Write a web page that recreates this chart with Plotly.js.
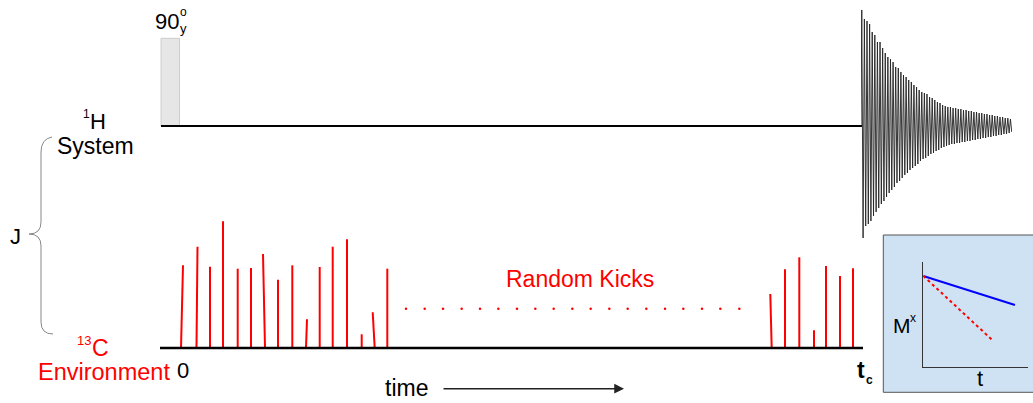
<!DOCTYPE html>
<html>
<head>
<meta charset="utf-8">
<script src="https://cdn.plot.ly/plotly-3.0.1.min.js"></script>
<style>html,body{margin:0;padding:0;background:#fff;}#chart{width:1033px;height:403px;}</style>
</head>
<body>
<div id="chart"></div>
<script>
// ---- data (diagram units = pixels of the reference) ----
const carbonBaseline = 348;
const protonBaseline = 126;
// random kicks: foot x, tip x, height above baseline
const kickFootX = [181, 196.5, 210, 223, 237.7, 251, 265, 278, 292.3, 306, 319.7, 332.7, 347, 361.7, 374.7, 387.3, 771.7, 785, 799.3, 814, 826, 840, 853];
const kickTipX  = [183, 197.5, 210, 223, 237.7, 251, 263, 278, 292.3, 307, 319.7, 332.7, 347, 361.7, 372.7, 387.3, 770.3, 785, 799.3, 814, 826, 840, 853];
const kickHeight = [82.7, 101.3, 81.3, 126.7, 79.3, 80, 94, 68.3, 82.7, 28.7, 81, 101.3, 108.7, 13.7, 35.7, 79.3, 54, 78.7, 90.7, 17.7, 82, 72, 79.7];
// dotted gap
const dotX = [406, 424.7, 443, 461.7, 480, 498.3, 517, 535.3, 553.7, 572.3, 590.7, 609.3, 627.7, 646.3, 665, 683.3, 702, 720.3, 739.3];
const dotY = 308.7;
// FID peak amplitudes (upper / lower), per cycle
const fidUpper = [116,107,105,102,94,91,84,84,78,73,69,67,64,59,58,54,51,49,46,44,41,39,36,34,33,32,29,28,26,24,23,21,20,19,19,18,18,17,17,16,16,15,15,14,14,13,13,12,12,11,11,10,10,9,9,8,8,7];
const fidLower = [112,100,98,95,90,86,82,78,75,71,67,64,61,57,55,52,49,47,44,42,40,38,35,33,32,30,28,27,25,24,22,21,20,19,18,18,17,17,16,16,15,15,14,14,13,13,12,12,11,11,10,10,9,9,8,8,7,6];
// inset: magnetisation decay
const insetT = [0, 0.873];
const insetSlow = [0.864, 0.588];
const insetFastT = [0, 0.667];
const insetFast = [0.864, 0.245];

// ---- build traces ----
const kx = [], ky = [];
for (let i = 0; i < kickFootX.length; i++) {
  kx.push(kickFootX[i], kickTipX[i], null);
  ky.push(carbonBaseline, carbonBaseline - kickHeight[i], null);
}
const fx = [-0.3], fy = [protonBaseline];
for (let k = 0; k < fidUpper.length; k++) {
  fx.push(k, k + 0.5);
  fy.push(protonBaseline - fidUpper[k], protonBaseline + fidLower[k]);
}

const traces = [
  {x: kx, y: ky, mode: 'lines', line: {color: '#ff0000', width: 2}, xaxis: 'x', yaxis: 'y', hoverinfo: 'skip'},
  {x: dotX, y: dotX.map(() => dotY), mode: 'markers', marker: {color: '#ff0000', size: 2.5}, xaxis: 'x', yaxis: 'y', hoverinfo: 'skip'},
  {x: fx, y: fy, mode: 'lines', line: {color: '#222', width: 0.9}, xaxis: 'x2', yaxis: 'y', hoverinfo: 'skip'},
  {x: insetT, y: insetSlow, mode: 'lines', line: {color: '#0000ff', width: 2}, xaxis: 'x3', yaxis: 'y3', hoverinfo: 'skip'},
  {x: insetFastT, y: insetFast, mode: 'lines', line: {color: '#ff0000', width: 2, dash: 'dot'}, xaxis: 'x3', yaxis: 'y3', hoverinfo: 'skip'}
];

const F = 'Liberation Sans, Arial, sans-serif';
function ann(text, x, y, size, color, extra) {
  return Object.assign({text: text, x: x, y: y, xref: 'x', yref: 'y', showarrow: false,
    xanchor: 'center', yanchor: 'middle', font: {family: F, size: size, color: color || '#000'}}, extra || {});
}
const annotations = [
  ann('90', 167, 21, 22),
  ann('o', 183, 12, 12),
  ann('y', 183, 28, 13),
  ann('1', 86, 114, 12),
  ann('H', 98, 121, 22),
  ann('System', 95, 146, 23),
  ann('J', 15, 236, 22),
  ann('13', 84, 340, 13, '#ff0000'),
  ann('C', 100, 348, 23, '#ff0000'),
  ann('Environment', 103.5, 372, 23.5, '#ff0000'),
  ann('0', 183, 370, 22),
  ann('Random Kicks', 580, 279, 23, '#ff0000'),
  ann('time', 406.5, 388, 23),
  ann('<b>t</b>', 861, 370, 23),
  ann('<b>c</b>', 869, 380, 12),
  ann('M', 901.5, 325, 21),
  ann('x', 913, 318, 12),
  ann('t', 980, 378, 22),
  {x: 624, y: 388.7, ax: 442, ay: 388.7, xref: 'x', yref: 'y', axref: 'x', ayref: 'y',
   text: '', showarrow: true, arrowhead: 2, arrowsize: 1.3, arrowwidth: 1.5, arrowcolor: '#222'}
];

const shapes = [
  {type: 'rect', xref: 'paper', yref: 'paper', x0: 883.3/1033, x1: 1.02, y0: 1 - 392.3/403, y1: 1 - 235/403,
   fillcolor: '#cfe2f3', line: {color: '#555', width: 1}, layer: 'below'},
  {type: 'rect', xref: 'x', yref: 'y', x0: 161, x1: 179.5, y0: 38.3, y1: protonBaseline,
   fillcolor: '#e6e6e6', line: {color: '#cccccc', width: 1}},
  {type: 'line', xref: 'x', yref: 'y', x0: 161, x1: 862, y0: protonBaseline, y1: protonBaseline, line: {color: '#000', width: 2}},
  {type: 'line', xref: 'x', yref: 'y', x0: 160, x1: 863, y0: carbonBaseline, y1: carbonBaseline, line: {color: '#000', width: 2.5}},
  {type: 'path', xref: 'x', yref: 'y',
   path: 'M 52,137 Q 41,139 41,152 L 41,222 Q 41,234 29,234 Q 41,234 41,246 L 41,322 Q 41,334 53,334',
   line: {color: '#888', width: 1}}
];

const layout = {
  width: 1033, height: 403,
  margin: {l: 0, r: 0, t: 0, b: 0, pad: 0},
  paper_bgcolor: '#ffffff', plot_bgcolor: 'rgba(0,0,0,0)',
  showlegend: false,
  xaxis: {range: [0, 1033], domain: [0, 1], visible: false, fixedrange: true},
  yaxis: {range: [403, 0], domain: [0, 1], visible: false, fixedrange: true},
  xaxis2: {range: [-0.3, 57.6], domain: [861/1033, 1012/1033], anchor: 'y', visible: false},
  xaxis3: {range: [0, 1], domain: [923.3/1033, 1028.3/1033], anchor: 'y3', showline: true, linecolor: '#333', linewidth: 1.5,
           showgrid: false, zeroline: false, showticklabels: false, ticks: ''},
  yaxis3: {range: [0, 1], domain: [1 - 366.7/403, 1 - 261.7/403], anchor: 'x3', showline: true, linecolor: '#333', linewidth: 1.5,
           showgrid: false, zeroline: false, showticklabels: false, ticks: ''},
  annotations: annotations,
  shapes: shapes
};

Plotly.newPlot('chart', traces, layout, {staticPlot: true, displayModeBar: false});
</script>
</body>
</html>
